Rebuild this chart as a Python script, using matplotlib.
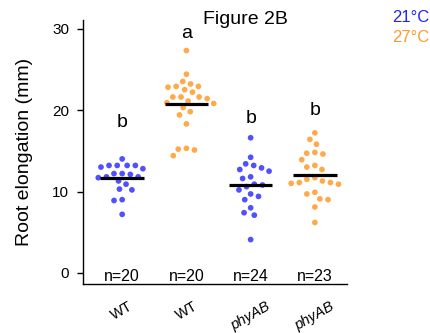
import numpy as np
import matplotlib
matplotlib.use("Agg")
import matplotlib.pyplot as plt

plt.rcParams['font.family'] = ['Liberation Sans', 'DejaVu Sans']

# ---- data ----
categories = ["WT", "WT", "phyAB", "phyAB"]
italic = [False, False, True, True]
temps = ["21°C", "27°C", "21°C", "27°C"]
n_labels = ["n=20", "n=20", "n=24", "n=23"]
letters = ["b", "a", "b", "b"]
letter_y = [18.5, 29.4, 19.0, 20.0]

wt21 = [14.0, 13.2, 13.2, 13.2, 13.2, 13.0, 12.8, 12.2, 12.2, 12.1,
        11.7, 11.8, 11.8, 11.3, 10.9, 10.2, 10.3, 8.9, 9.0, 7.2]
wt27 = [27.3, 24.4, 23.5, 23.2, 22.9, 22.8, 22.9, 22.5, 22.2, 21.6,
        21.4, 21.6, 21.6, 21.1, 20.9, 20.8, 20.3, 19.8, 19.4, 18.3,
        15.3, 15.1, 15.2, 14.4]
phy21 = [16.6, 14.2, 12.9, 13.4, 13.2, 12.5, 12.7, 11.8, 11.6, 10.8,
         10.6, 10.9, 10.2, 9.4, 9.0, 9.7, 8.0, 7.1, 7.4, 4.1]
phy27 = [17.2, 16.4, 15.8, 14.8, 14.6, 14.7, 13.9, 13.2, 13.0, 12.7,
         11.7, 11.5, 11.0, 11.1, 11.1, 11.3, 10.9, 9.9, 9.7, 9.1,
         9.0, 8.1, 6.2]
groups = [wt21, wt27, phy21, phy27]

blue = "#4646ff"
orange = "#ffa640"
colors = [blue, orange, blue, orange]

# ---- figure ----
W, H = 431, 333
fig = plt.figure(figsize=(W / 100, H / 100), dpi=100)
ax = fig.add_axes([83 / W, 1 - 284 / H, (347 - 83) / W, (284 - 20) / H])
ylim = (-1.35, 31.05)
xlim = (-0.61, 3.5)
ax.set_ylim(*ylim)
ax.set_xlim(*xlim)

# pixel scales for swarm layout
px_per_y = (284 - 20) / (ylim[1] - ylim[0])
px_per_x = (347 - 83) / (xlim[1] - xlim[0])
d = 8.2  # dot spacing in pixels


def swarm(vals):
    ys = np.asarray(vals) * px_per_y
    order = np.argsort(-ys)
    placed = []
    xs = np.zeros(len(ys))
    for i in order:
        y = ys[i]
        cands = [0.0]
        for (xj, yj) in placed:
            dy = abs(y - yj)
            if dy < d:
                dx = np.sqrt(d * d - dy * dy)
                cands += [xj + dx, xj - dx]
        cands.sort(key=lambda c: (abs(c), c))
        for c in cands:
            ok = all((c - xj) ** 2 + (y - yj) ** 2 >= d * d - 1e-6 for (xj, yj) in placed)
            if ok:
                xs[i] = c
                placed.append((c, y))
                break
    return xs / px_per_x


for i, (vals, col) in enumerate(zip(groups, colors)):
    offs = swarm(vals)
    ax.scatter(i + offs, vals, s=17, color=col, edgecolors='none', zorder=2, alpha=0.95)
    m = np.mean(vals)
    ax.plot([i - 0.34, i + 0.34], [m, m], color='black', lw=2.3, zorder=3,
            solid_capstyle='butt')
    ax.text(i, letter_y[i], letters[i], ha='center', va='center', fontsize=14)
    ax.text(i, -0.4, n_labels[i], ha='center', va='center', fontsize=11.5)

# axes styling
for s in ['top', 'right']:
    ax.spines[s].set_visible(False)
ax.spines['left'].set_linewidth(1.0)
ax.spines['bottom'].set_linewidth(1.0)
ax.set_yticks([0, 10, 20, 30])
ax.tick_params(axis='y', labelsize=11, length=4, width=1, direction='out', pad=6)
ax.set_xticks(range(4))
ax.set_xticklabels(categories, rotation=30, ha='center', fontsize=10.5)
for lab, it in zip(ax.get_xticklabels(), italic):
    if it:
        lab.set_style('italic')
ax.tick_params(axis='x', length=0, pad=11)
ax.set_ylabel("Root elongation (mm)", fontsize=14, labelpad=14)

fig.text(245 / W, 1 - 20 / H, "Figure 2B", ha='center', va='center', fontsize=14)
fig.text(429 / W, 1 - 18 / H, "21°C", ha='right', va='center', fontsize=12, color="#2222ff")
fig.text(429 / W, 1 - 37 / H, "27°C", ha='right', va='center', fontsize=12, color="#ff9a2a")

fig.savefig("out.png", dpi=100)
